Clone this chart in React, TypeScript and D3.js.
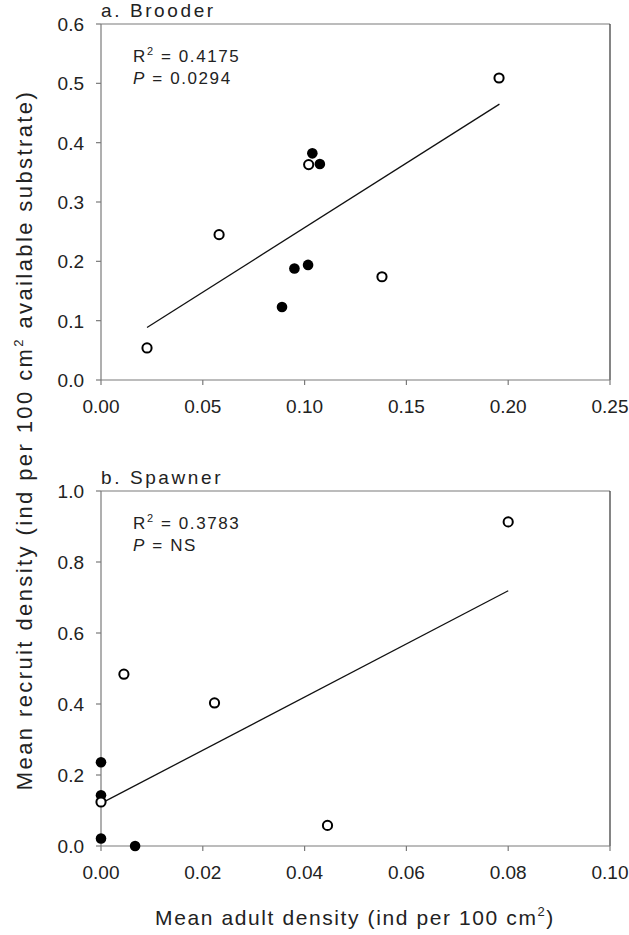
import React from "react";
import * as d3 from "d3";

// ---- Data ----
const brooderOpenX = [0.0226, 0.058, 0.102, 0.138, 0.1955];
const brooderOpenY = [0.054, 0.245, 0.363, 0.174, 0.509];
const brooderFilledX = [0.0889, 0.095, 0.1017, 0.1038, 0.1075];
const brooderFilledY = [0.123, 0.188, 0.194, 0.382, 0.364];
const brooderFitX = [0.0226, 0.1957];
const brooderFitY = [0.0885, 0.465];
const brooderXTicks = [0, 0.05, 0.1, 0.15, 0.2, 0.25];
const brooderYTicks = [0, 0.1, 0.2, 0.3, 0.4, 0.5, 0.6];

const spawnerOpenX = [0, 0.0045, 0.0223, 0.0445, 0.08];
const spawnerOpenY = [0.124, 0.484, 0.403, 0.058, 0.913];
const spawnerFilledX = [0, 0, 0, 0.0067];
const spawnerFilledY = [0.236, 0.143, 0.021, 0];
const spawnerFitX = [0, 0.08];
const spawnerFitY = [0.12, 0.719];
const spawnerXTicks = [0, 0.02, 0.04, 0.06, 0.08, 0.1];
const spawnerYTicks = [0, 0.2, 0.4, 0.6, 0.8, 1.0];

const FONT = "'Liberation Sans', Arial, sans-serif";
const W = 629;
const H = 935;
const L = 101;
const R = 610;

type PanelProps = {
  top: number;
  bottom: number;
  xMax: number;
  yMax: number;
  xTicks: number[];
  yTicks: number[];
  xFmt: (v: number) => string;
  yFmt: (v: number) => string;
  openX: number[];
  openY: number[];
  filledX: number[];
  filledY: number[];
  fitX: number[];
  fitY: number[];
  title: string;
  r2: string;
  p: string;
  openOnTop: boolean;
};

function Panel(props: PanelProps) {
  const x = d3.scaleLinear().domain([0, props.xMax]).range([L, R]);
  const y = d3.scaleLinear().domain([0, props.yMax]).range([props.bottom, props.top]);
  const line = d3
    .line<number>()
    .x((_, i) => x(props.fitX[i]))
    .y((d) => y(d));
  const open = props.openX.map((v, i) => (
    <circle key={"o" + i} cx={x(v)} cy={y(props.openY[i])} r={4.6} fill="#fff" stroke="#000" strokeWidth={2} />
  ));
  const filled = props.filledX.map((v, i) => (
    <circle key={"f" + i} cx={x(v)} cy={y(props.filledY[i])} r={5.3} fill="#000" />
  ));
  const axisGray = "#7a7a7a";
  return (
    <g>
      {/* frame */}
      <line x1={L} x2={R} y1={props.top} y2={props.top} stroke={axisGray} strokeWidth={1.2} />
      <line x1={R} x2={R} y1={props.top} y2={props.bottom} stroke="#333" strokeWidth={1.2} />
      <line x1={L} x2={L} y1={props.top} y2={props.bottom} stroke={axisGray} strokeWidth={1.2} />
      <line x1={L} x2={R} y1={props.bottom} y2={props.bottom} stroke={axisGray} strokeWidth={1.2} />
      {/* y ticks */}
      {props.yTicks.map((t) => (
        <g key={"y" + t}>
          <line x1={L - 5} x2={L} y1={y(t)} y2={y(t)} stroke={axisGray} strokeWidth={1.2} />
          <text x={84} y={y(t)} dy="0.36em" textAnchor="end" fontSize={19} fill="#222" fontFamily={FONT}>
            {props.yFmt(t)}
          </text>
        </g>
      ))}
      {/* x ticks */}
      {props.xTicks.map((t) => (
        <g key={"x" + t}>
          <line x1={x(t)} x2={x(t)} y1={props.bottom} y2={props.bottom + 5} stroke={axisGray} strokeWidth={1.2} />
          <text x={x(t)} y={props.bottom + 33} textAnchor="middle" fontSize={19} fill="#222" fontFamily={FONT}>
            {props.xFmt(t)}
          </text>
        </g>
      ))}
      {/* fit line */}
      <path d={line(props.fitY) || ""} fill="none" stroke="#111" strokeWidth={1.3} />
      {props.openOnTop ? (
        <>
          {filled}
          {open}
        </>
      ) : (
        <>
          {open}
          {filled}
        </>
      )}
      {/* title */}
      <text x={L} y={props.top - 7} fontSize={19} letterSpacing={2.6} fill="#222" fontFamily={FONT}>
        {props.title}
      </text>
      {/* stats */}
      <text x={133} y={props.top + 38} fontSize={17} letterSpacing={1.6} fill="#222" fontFamily={FONT}>
        R<tspan dy={-7} fontSize={11}>2</tspan>
        <tspan dy={7}>{" = " + props.r2}</tspan>
      </text>
      <text x={133} y={props.top + 60} fontSize={17} letterSpacing={1.6} fill="#222" fontFamily={FONT}>
        <tspan fontStyle="italic">P</tspan>
        {" = " + props.p}
      </text>
    </g>
  );
}

export default function App() {
  return (
    <svg
      width={W}
      height={H}
      viewBox={`0 0 ${W} ${H}`}
      style={{ position: "absolute", left: 0, top: 0, background: "#fff", display: "block" }}
    >
      <rect x={0} y={0} width={W} height={H} fill="#fff" />
      <Panel
        top={24}
        bottom={380}
        xMax={0.25}
        yMax={0.6}
        xTicks={brooderXTicks}
        yTicks={brooderYTicks}
        xFmt={d3.format(".2f")}
        yFmt={d3.format(".1f")}
        openX={brooderOpenX}
        openY={brooderOpenY}
        filledX={brooderFilledX}
        filledY={brooderFilledY}
        fitX={brooderFitX}
        fitY={brooderFitY}
        title="a. Brooder"
        r2="0.4175"
        p="0.0294"
        openOnTop={false}
      />
      <Panel
        top={491}
        bottom={846}
        xMax={0.1}
        yMax={1.0}
        xTicks={spawnerXTicks}
        yTicks={spawnerYTicks}
        xFmt={d3.format(".2f")}
        yFmt={d3.format(".1f")}
        openX={spawnerOpenX}
        openY={spawnerOpenY}
        filledX={spawnerFilledX}
        filledY={spawnerFilledY}
        fitX={spawnerFitX}
        fitY={spawnerFitY}
        title="b. Spawner"
        r2="0.3783"
        p="NS"
        openOnTop={true}
      />
      {/* x-axis title */}
      <text x={355} y={925} textAnchor="middle" fontSize={21} letterSpacing={1.6} fill="#222" fontFamily={FONT}>
        Mean adult density (ind per 100 cm<tspan dy={-9} fontSize={13}>2</tspan>
        <tspan dy={9}>)</tspan>
      </text>
      {/* y-axis title */}
      <text
        transform="translate(32,440) rotate(-90)"
        textAnchor="middle"
        fontSize={22}
        letterSpacing={2.4}
        fill="#222"
        fontFamily={FONT}
      >
        Mean recruit density (ind per 100 cm<tspan dy={-9} fontSize={13}>2</tspan>
        <tspan dy={9}> available substrate)</tspan>
      </text>
    </svg>
  );
}
